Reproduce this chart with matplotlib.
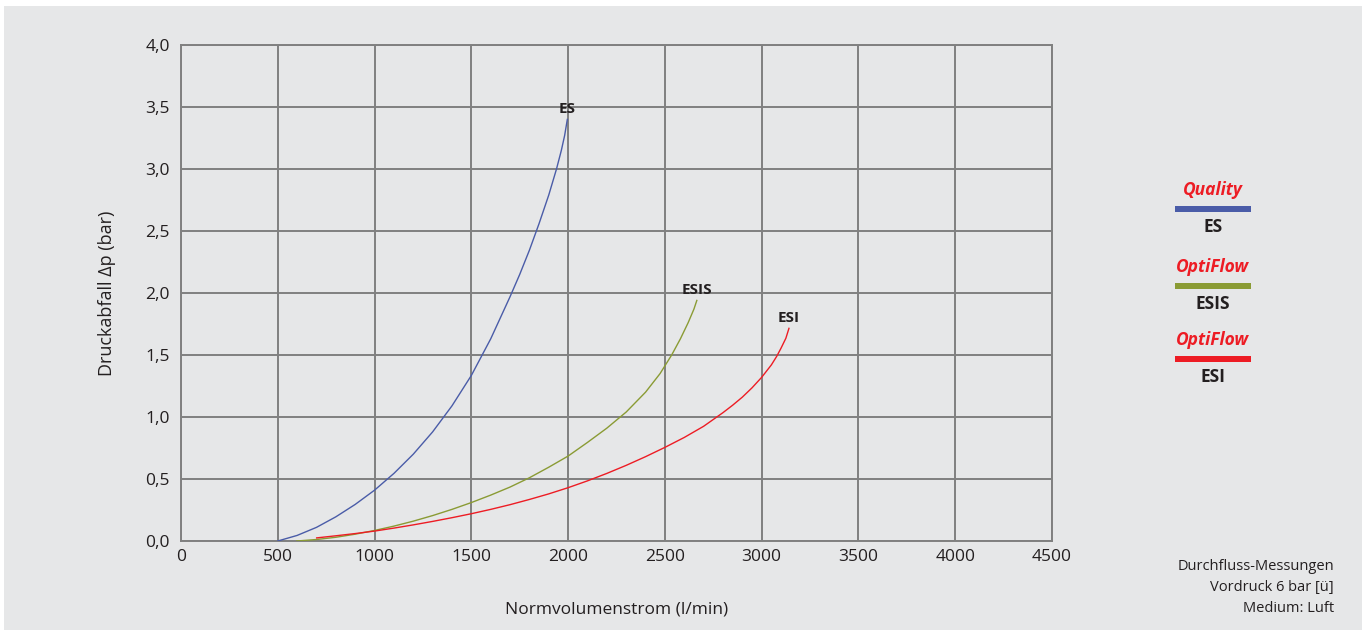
import matplotlib
matplotlib.use('Agg')
import matplotlib.pyplot as plt
from matplotlib.patches import Rectangle
from matplotlib.ticker import FuncFormatter

plt.rcParams['font.family'] = ['Open Sans', 'DejaVu Sans']

BG = '#e6e7e8'
GRID = '#808080'
TXT = '#231f20'
BLUE = '#4a5ca8'
GREEN = '#8a9b34'
RED = '#ed1c24'

# Normvolumenstrom (l/min) vs. Druckabfall (bar)
es_x = [500, 600, 700, 800, 900, 1000, 1100, 1200, 1300, 1400, 1500, 1600,
        1700, 1750, 1800, 1850, 1900, 1940, 1965, 1982, 1996]
es_y = [0.0, 0.045, 0.11, 0.195, 0.295, 0.41, 0.545, 0.70, 0.88, 1.09, 1.335, 1.63,
        1.97, 2.15, 2.345, 2.56, 2.79, 3.0, 3.15, 3.27, 3.40]

esis_x = [598, 700, 800, 900, 1000, 1100, 1200, 1300, 1400, 1500, 1600, 1700,
          1800, 1900, 2000, 2100, 2200, 2300, 2400, 2475, 2535, 2580, 2620, 2650, 2665]
esis_y = [0.0, 0.012, 0.03, 0.055, 0.085, 0.12, 0.16, 0.205, 0.255, 0.31, 0.37, 0.435,
          0.51, 0.595, 0.685, 0.795, 0.91, 1.04, 1.2, 1.35, 1.5, 1.63, 1.76, 1.87, 1.94]

esi_x = [701, 800, 900, 1000, 1100, 1200, 1300, 1400, 1500, 1600, 1700, 1800,
         1900, 2000, 2100, 2200, 2300, 2400, 2500, 2600, 2700, 2800, 2850, 2900, 2950,
         3000, 3050, 3078, 3100, 3125, 3141]
esi_y = [0.025, 0.042, 0.06, 0.08, 0.104, 0.13, 0.158, 0.188, 0.22, 0.255, 0.293, 0.335,
         0.38, 0.43, 0.485, 0.545, 0.61, 0.68, 0.755, 0.835, 0.925, 1.035, 1.095, 1.16, 1.235,
         1.32, 1.42, 1.49, 1.555, 1.635, 1.715]

series = [
    ('ES', es_x, es_y, BLUE, 'Quality'),
    ('ESIS', esis_x, esis_y, GREEN, 'OptiFlow'),
    ('ESI', esi_x, esi_y, RED, 'OptiFlow'),
]

x_ticks = [0, 500, 1000, 1500, 2000, 2500, 3000, 3500, 4000, 4500]
y_ticks = [0.0, 0.5, 1.0, 1.5, 2.0, 2.5, 3.0, 3.5, 4.0]

notes = ['Durchfluss-Messungen', 'Vordruck 6 bar [ü]', 'Medium: Luft']

fig = plt.figure(figsize=(13.7, 6.32), dpi=100, facecolor='white')
fig.patches.append(Rectangle((4 / 1370, 1 - 630 / 632), 1358 / 1370, 624 / 632,
                             transform=fig.transFigure, facecolor=BG,
                             edgecolor='none', zorder=-10))

ax = fig.add_axes([181 / 1370, 1 - 541 / 632, 871 / 1370, 496 / 632])
ax.set_zorder(1)
ax.set_facecolor(BG)
ax.set_xlim(0, 4500)
ax.set_ylim(0, 4.0)
ax.set_xticks(x_ticks)
ax.set_yticks(y_ticks)
ax.yaxis.set_major_formatter(FuncFormatter(lambda v, p: f'{v:.1f}'.replace('.', ',')))
ax.tick_params(length=0, labelsize=12.5, colors=TXT, pad=8)
ax.tick_params(axis='x', pad=6)
ax.grid(True, color=GRID, linewidth=1.4)
ax.set_axisbelow(True)
for s in ax.spines.values():
    s.set_color(GRID)
    s.set_linewidth(1.4)

for name, xs, ys, col, brand in series:
    ax.plot(xs, ys, color=col, linewidth=1.0, zorder=3)
    ax.text(xs[-1], ys[-1] + 0.03, name, ha='center', va='bottom',
            fontsize=11, fontweight='bold', color=TXT, zorder=4)

ax.set_xlabel('Normvolumenstrom (l/min)', fontsize=12.5, color=TXT, labelpad=26)
ax.set_ylabel('Druckabfall \u0394p (bar)', fontsize=13, color=TXT, labelpad=21)

# legend at the right
leg_y = [190, 267, 340]
for (name, xs, ys, col, brand), yy in zip(series, leg_y):
    fig.text(1213 / 1370, 1 - yy / 632, brand, ha='center', va='center',
             fontsize=12.5, fontweight='bold', fontstyle='italic', color=RED)
    fig.patches.append(Rectangle((1175 / 1370, 1 - (yy + 22) / 632), 76 / 1370, 6 / 632,
                                 transform=fig.transFigure, facecolor=col,
                                 edgecolor='none', zorder=2))
    fig.text(1213 / 1370, 1 - (yy + 37) / 632, name, ha='center', va='center',
             fontsize=12.5, fontweight='bold', color=TXT)

for i, line in enumerate(notes):
    fig.text(1334 / 1370, 1 - (566 + 21 * i) / 632, line, ha='right', va='center',
             fontsize=10.5, color=TXT)

fig.savefig('out.png', dpi=100, facecolor='white')
